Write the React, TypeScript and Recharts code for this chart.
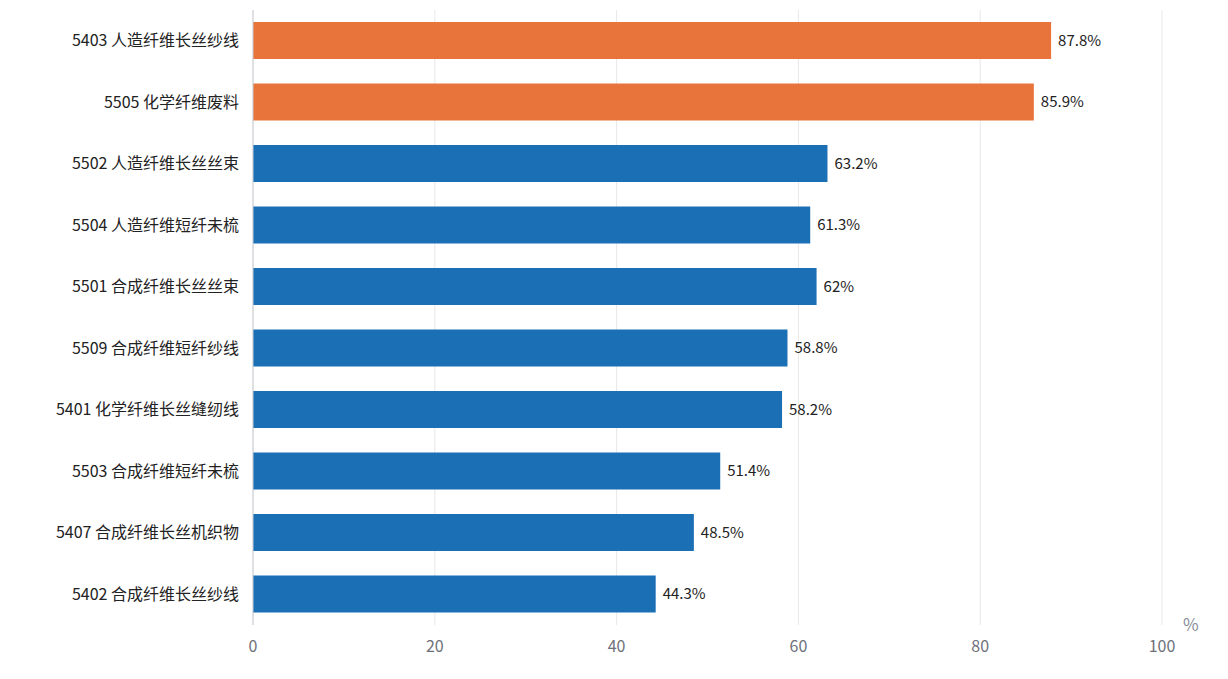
import React from 'react';
import { BarChart, Bar, XAxis, YAxis, CartesianGrid, LabelList, Cell } from 'recharts';

const categories = [
    '5403 人造纤维长丝纱线',
    '5505 化学纤维废料',
    '5502 人造纤维长丝丝束',
    '5504 人造纤维短纤未梳',
    '5501 合成纤维长丝丝束',
    '5509 合成纤维短纤纱线',
    '5401 化学纤维长丝缝纫线',
    '5503 合成纤维短纤未梳',
    '5407 合成纤维长丝机织物',
    '5402 合成纤维长丝纱线',
];
const values = [87.8, 85.9, 63.2, 61.3, 62, 58.8, 58.2, 51.4, 48.5, 44.3];
const highlighted = [true, true, false, false, false, false, false, false, false, false];
const xTicks = [0, 20, 40, 60, 80, 100];

const data = categories.map((name, i) => ({ name, value: values[i], hot: highlighted[i] }));

const font = '"Microsoft YaHei", "Noto Sans CJK SC", sans-serif';

export default function App() {
    return (
        <div style={{ position: 'absolute', left: 0, top: 0, width: 1228, height: 679, background: '#fff', fontFamily: font }}>
            <BarChart
                width={1228}
                height={679}
                data={data}
                layout="vertical"
                margin={{ top: 10, right: 66, left: 0, bottom: 24 }}
            >
                <CartesianGrid horizontal={false} stroke="#E8E8E8" />
                <XAxis
                    type="number"
                    domain={[0, 100]}
                    ticks={xTicks}
                    axisLine={false}
                    tickLine={false}
                    tick={{ fill: '#6E7079', fontSize: 16, fontFamily: font }}
                    tickMargin={10}
                />
                <YAxis
                    dataKey="name"
                    type="category"
                    width={253}
                    axisLine={{ stroke: '#C8CCD4' }}
                    tickLine={false}
                    tick={{ fill: '#222', fontSize: 16, fontFamily: font }}
                    tickMargin={8}
                />
                <Bar dataKey="value" barSize={37} isAnimationActive={false}>
                    {data.map((d, i) => (
                        <Cell key={i} fill={d.hot ? '#E8743B' : '#1B6FB5'} />
                    ))}
                    <LabelList
                        dataKey="value"
                        position="right"
                        offset={7}
                        formatter={(v: number) => `${v}%`}
                        style={{ fill: '#222', fontSize: 15, fontFamily: font }}
                    />
                </Bar>
            </BarChart>
            <div style={{ position: 'absolute', left: 1183, top: 611, color: '#8A8F99', fontSize: 17 }}>%</div>
        </div>
    );
}
